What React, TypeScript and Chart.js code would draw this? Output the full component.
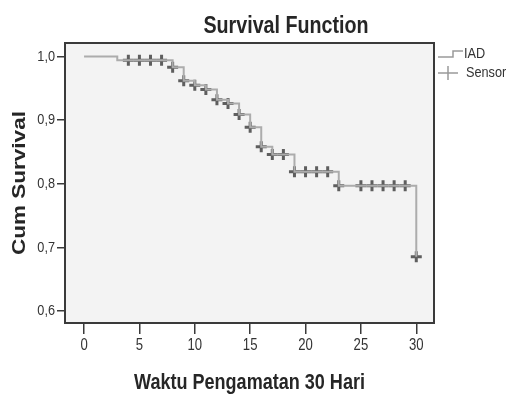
import React, { useEffect, useRef } from "react";
import { Chart, registerables } from "chart.js";

Chart.register(...registerables);

// Kaplan-Meier step points (time, cumulative survival after the step)
const stepTimes = [0, 3, 8, 9, 10, 11, 12, 13, 14, 15, 16, 17, 19, 23, 30];
const stepSurvival = [1.0, 0.994, 0.983, 0.962, 0.955, 0.948, 0.932, 0.926, 0.909, 0.889, 0.858, 0.846, 0.819, 0.797, 0.685];

// Censored observations
const censorTimes = [4, 5, 6, 7, 8, 9, 10, 11, 12, 13, 14, 15, 16, 17, 18, 19, 20, 21, 22, 23, 25, 26, 27, 28, 29, 30];
const censorSurvival = [0.994, 0.994, 0.994, 0.994, 0.983, 0.962, 0.955, 0.948, 0.932, 0.926, 0.909, 0.889, 0.858, 0.846, 0.846, 0.819, 0.819, 0.819, 0.819, 0.797, 0.797, 0.797, 0.797, 0.797, 0.797, 0.685];

const xTickValues = [0, 5, 10, 15, 20, 25, 30];
const yTickValues = [0.6, 0.7, 0.8, 0.9, 1.0];

const seriesLabels = ["IAD", "Sensor"];
const titleText = "Survival Function";
const xTitleText = "Waktu Pengamatan 30 Hari";
const yTitleText = "Cum Survival";

const FONT = '"Liberation Sans", Arial, sans-serif';
const SQUEEZE = 0.82;

function narrowText(ctx: CanvasRenderingContext2D, text: string, x: number, y: number) {
  ctx.save();
  ctx.translate(x, y);
  ctx.scale(SQUEEZE, 1);
  ctx.fillText(text, 0, 0);
  ctx.restore();
}

function patchScaleLabels(scale: any) {
  if (scale.__narrowPatched) return;
  scale.__narrowPatched = true;
  const orig = scale.drawLabels.bind(scale);
  scale.drawLabels = function (area: any) {
    const ctx: any = this.ctx;
    const f = ctx.fillText;
    ctx.fillText = function (t: string, x: number, y: number) {
      ctx.save();
      ctx.translate(x, y);
      ctx.scale(SQUEEZE, 1);
      f.call(ctx, t, 0, 0);
      ctx.restore();
    };
    try {
      orig(area);
    } finally {
      ctx.fillText = f;
    }
  };
}

const decorPlugin = {
  id: "decor",
  beforeDraw(chart: any) {
    const { ctx, chartArea: a } = chart;
    Object.values(chart.scales).forEach((s: any) => patchScaleLabels(s));
    ctx.save();
    ctx.fillStyle = "#f3f3f3";
    ctx.fillRect(a.left, a.top, a.right - a.left, a.bottom - a.top);
    ctx.restore();
  },
  afterDraw(chart: any) {
    const { ctx, chartArea: a } = chart;
    ctx.save();
    // frame
    ctx.strokeStyle = "#3a3a3a";
    ctx.lineWidth = 2;
    ctx.strokeRect(a.left, a.top, a.right - a.left, a.bottom - a.top);

    ctx.fillStyle = "#262626";
    ctx.textAlign = "center";
    ctx.textBaseline = "alphabetic";
    // title
    ctx.font = `bold 24px ${FONT}`;
    narrowText(ctx, titleText, 286, 33);

    // x title
    ctx.font = `bold 22px ${FONT}`;
    narrowText(ctx, xTitleText, (a.left + a.right) / 2, 389);

    // y title
    ctx.save();
    ctx.translate(25, 183);
    ctx.rotate(-Math.PI / 2);
    ctx.scale(1, SQUEEZE);
    ctx.font = `bold 22.5px ${FONT}`;
    ctx.fillText(yTitleText, 0, 0);
    ctx.restore();

    // legend
    const lx = a.right + 4;
    ctx.strokeStyle = "#9a9a9a";
    ctx.lineWidth = 1.5;
    ctx.beginPath();
    ctx.moveTo(lx, 57);
    ctx.lineTo(lx + 15, 57);
    ctx.lineTo(lx + 15, 51);
    ctx.lineTo(lx + 25, 51);
    ctx.stroke();
    ctx.beginPath();
    ctx.moveTo(lx, 73);
    ctx.lineTo(lx + 20, 73);
    ctx.moveTo(lx + 10, 66);
    ctx.lineTo(lx + 10, 80);
    ctx.stroke();
    ctx.fillStyle = "#333";
    ctx.font = `15.5px ${FONT}`;
    ctx.textAlign = "left";
    ctx.textBaseline = "middle";
    narrowText(ctx, seriesLabels[0], lx + 26, 54);
    narrowText(ctx, seriesLabels[1], lx + 28, 73);
    ctx.restore();
  },
};

export default function App() {
  const ref = useRef<HTMLCanvasElement | null>(null);
  useEffect(() => {
    if (!ref.current) return;
    const chart = new Chart(ref.current, {
      type: "line",
      data: {
        datasets: [
          {
            label: seriesLabels[0],
            data: stepTimes.map((t, i) => ({ x: t, y: stepSurvival[i] })),
            stepped: true,
            borderColor: "#acacac",
            borderWidth: 2,
            pointRadius: 0,
            fill: false,
          },
          {
            label: seriesLabels[1],
            data: censorTimes.map((t, i) => ({ x: t, y: censorSurvival[i] })),
            showLine: false,
            pointStyle: "cross",
            pointRadius: 5.5,
            pointBorderColor: "#5e5e5e",
            pointBorderWidth: 3,
            borderColor: "#5e5e5e",
          },
        ],
      },
      options: {
        responsive: false,
        animation: false,
        layout: { padding: { left: 0, top: 43, right: 72, bottom: 0 } },
        plugins: { legend: { display: false }, tooltip: { enabled: false }, title: { display: false } },
        scales: {
          x: {
            type: "linear",
            min: -1.72,
            max: 31.6,
            afterBuildTicks: (s: any) => {
              s.ticks = xTickValues.map((v) => ({ value: v }));
            },
            afterFit: (s: any) => {
              s.height = 71;
            },
            grid: { drawOnChartArea: false, drawTicks: true, tickLength: 11, color: "#3a3a3a", lineWidth: 1.5 },
            border: { display: true, color: "#3a3a3a", width: 2 },
            ticks: {
              color: "#333",
              font: { family: FONT, size: 16 },
              padding: 2,
              maxRotation: 0,
              autoSkip: false,
              callback: (v: any) => String(v),
            },
          },
          y: {
            type: "linear",
            min: 0.581,
            max: 1.0213,
            afterBuildTicks: (s: any) => {
              s.ticks = yTickValues.map((v) => ({ value: v }));
            },
            afterFit: (s: any) => {
              s.width = 65;
            },
            grid: { drawOnChartArea: false, drawTicks: true, tickLength: 8, color: "#3a3a3a", lineWidth: 1.5 },
            border: { display: true, color: "#3a3a3a", width: 2 },
            ticks: {
              color: "#333",
              font: { family: FONT, size: 15.5 },
              padding: 2,
              autoSkip: false,
              callback: (v: any) => Number(v).toFixed(1).replace(".", ","),
            },
          },
        },
      },
      plugins: [decorPlugin],
    });
    return () => chart.destroy();
  }, []);
  return (
    <div style={{ position: "fixed", left: 0, top: 0, width: 506, height: 394, background: "#fff" }}>
      <canvas ref={ref} width={506} height={394} style={{ display: "block", width: 506, height: 394 }} />
    </div>
  );
}
